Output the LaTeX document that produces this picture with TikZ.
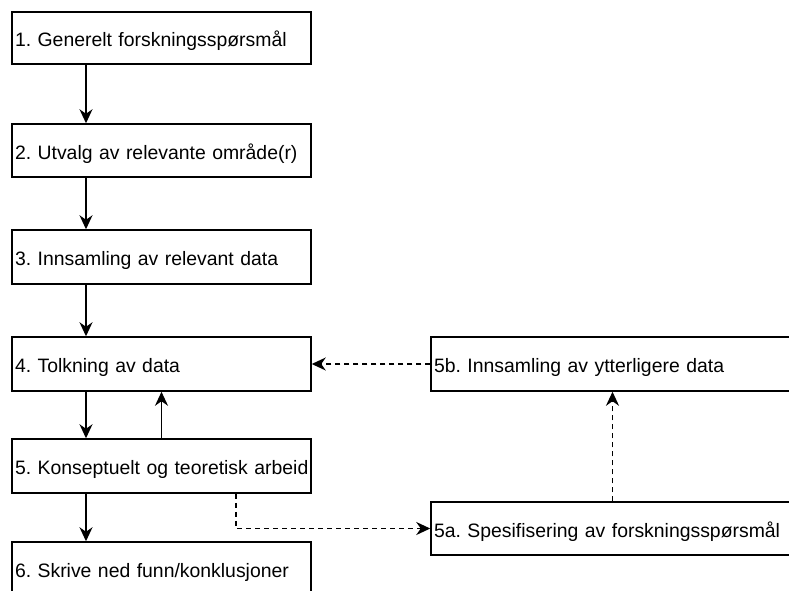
\documentclass[tikz,border=0pt]{standalone}
\usepackage{fontspec}
\setmainfont{Liberation Sans}
\usetikzlibrary{arrows.meta}
\frenchspacing
% one line of box text, never wrapped
\newcommand{\oneline}[1]{\mbox{#1}}
\begin{document}
\begin{tikzpicture}[x=1pt,y=-1pt,
  stepbox/.style={draw=black, line width=1.5pt, fill=white, rectangle,
    inner xsep=3pt, inner ysep=0pt, align=left,
    text height=17.4pt, text depth=0pt,
    font=\fontsize{19.4}{23}\selectfont},
  leftbox/.style={stepbox, minimum width=299pt, text width=293pt},
  rightbox/.style={stepbox, minimum width=363pt, text width=357pt},
  arr/.style={line width=1.6pt, -{Stealth[length=14pt, width=13pt, inset=4.5pt]}},
  darr/.style={arr, dash pattern=on 5pt off 4pt}]
  \useasboundingbox (0,0) rectangle (789,590);
  \clip (0,0) rectangle (789,590);

  % main chain of steps
  \node[leftbox, minimum height=52pt] (b1) at (161.5,38) {\oneline{1. Generelt forskningsspørsmål}};
  \node[leftbox, minimum height=53pt] (b2) at (161.5,150.5) {\oneline{2. Utvalg av relevante område(r)}};
  \node[leftbox, minimum height=54pt] (b3) at (161.5,257) {\oneline{3. Innsamling av relevant data}};
  \node[leftbox, minimum height=54pt] (b4) at (161.5,364) {\oneline{4. Tolkning av data}};
  \node[leftbox, minimum height=54pt] (b5) at (161.5,466) {\oneline{5. Konseptuelt og teoretisk arbeid}};
  \node[leftbox, minimum height=54pt] (b6) at (161.5,569) {\oneline{6. Skrive ned funn/konklusjoner}};

  % side loop
  \node[rightbox, minimum height=54pt] (b5b) at (612.5,364) {\oneline{5b. Innsamling av ytterligere data}};
  \node[rightbox, minimum height=53pt] (b5a) at (612.5,528.5) {\oneline{5a. Spesifisering av forskningsspørsmål}};

  % solid connectors
  \draw[arr] ([xshift=-75.5pt]b1.south) -- ([xshift=-75.5pt]b2.north);
  \draw[arr] ([xshift=-75.5pt]b2.south) -- ([xshift=-75.5pt]b3.north);
  \draw[arr] ([xshift=-75.5pt]b3.south) -- ([xshift=-75.5pt]b4.north);
  \draw[arr] ([xshift=-75.5pt]b4.south) -- ([xshift=-75.5pt]b5.north);
  \draw[arr] (b5.north) -- (b4.south);
  \draw[arr] ([xshift=-75.5pt]b5.south) -- ([xshift=-75.5pt]b6.north);

  % dashed connectors
  \draw[darr] ([xshift=74.5pt]b5.south) |- (b5a.west);
  \draw[darr] (b5a.north) -- (b5b.south);
  \draw[darr] (b5b.west) -- (b4.east);
\end{tikzpicture}
\end{document}
